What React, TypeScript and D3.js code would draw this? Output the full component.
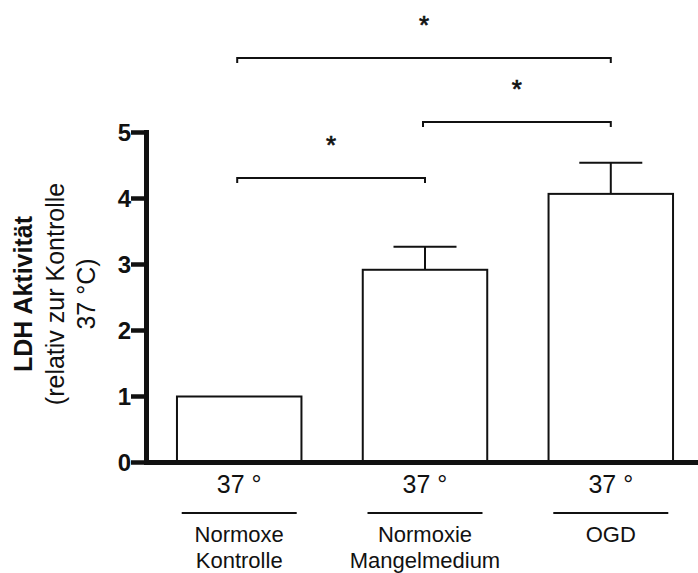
import React from "react";
import * as d3 from "d3";

const categories = ["Normoxe Kontrolle", "Normoxie Mangelmedium", "OGD"];
const groupLabelLines = [["Normoxe", "Kontrolle"], ["Normoxie", "Mangelmedium"], ["OGD"]];
const tempLabels = ["37 °", "37 °", "37 °"];
const means = [1.0, 2.92, 4.07];
const sems = [0, 0.35, 0.47];
const yTicks = [0, 1, 2, 3, 4, 5];
const sigFrom = [0, 1, 0];
const sigTo = [1, 2, 2];
const sigLevel = [4.31, 5.16, 6.13];
const sigLabels = ["*", "*", "*"];
const yTitleLines = ["LDH Aktivität", "(relativ zur Kontrolle", "37 °C)"];

const W = 698;
const H = 573;
const FONT = "'Liberation Sans', Arial, Helvetica, sans-serif";
const INK = "#111";

export default function App() {
  const axisX = 146.5;
  const x = d3
    .scaleBand<string>()
    .domain(categories)
    .range([axisX, 703.5])
    .paddingInner(0.33)
    .paddingOuter(0.164);
  const y = d3.scaleLinear().domain([0, 5]).range([462.5, 132.5]);
  const bw = x.bandwidth();
  const cx = (i: number) => (x(categories[i]) as number) + bw / 2;
  const capHalf = 31.5;

  return (
    <svg
      width={W}
      height={H}
      style={{ position: "absolute", left: 0, top: 0, background: "#fff" }}
      fontFamily={FONT}
    >
      <rect x={0} y={0} width={W} height={H} fill="#fff" />
      {/* bars */}
      {categories.map((c, i) => (
        <g key={c}>
          {sems[i] > 0 && (
            <g stroke={INK} strokeWidth={2}>
              <line x1={cx(i)} x2={cx(i)} y1={y(means[i])} y2={y(means[i] + sems[i])} />
              <line
                x1={cx(i) - capHalf}
                x2={cx(i) + capHalf}
                y1={y(means[i] + sems[i])}
                y2={y(means[i] + sems[i])}
              />
            </g>
          )}
          <rect
            x={x(c)}
            y={y(means[i])}
            width={bw}
            height={y(0) - y(means[i])}
            fill="#fff"
            stroke={INK}
            strokeWidth={2}
          />
        </g>
      ))}
      {/* y axis */}
      <line x1={axisX} x2={axisX} y1={130} y2={465} stroke={INK} strokeWidth={5} />
      {yTicks.map((t) => (
        <g key={t}>
          <line x1={131} x2={axisX} y1={y(t)} y2={y(t)} stroke={INK} strokeWidth={4.5} />
          <text
            x={131}
            y={y(t) + 8.6}
            textAnchor="end"
            fontSize={24}
            fontWeight="bold"
            fill={INK}
          >
            {t}
          </text>
        </g>
      ))}
      {/* x axis */}
      <line x1={axisX - 2.5} x2={W} y1={y(0)} y2={y(0)} stroke={INK} strokeWidth={5} />
      {/* x labels */}
      {categories.map((c, i) => (
        <g key={"lab" + c}>
          <text x={cx(i)} y={493} textAnchor="middle" fontSize={25} fill={INK}>
            {tempLabels[i]}
          </text>
          <line
            x1={cx(i) - 57.5}
            x2={cx(i) + 57.5}
            y1={513}
            y2={513}
            stroke={INK}
            strokeWidth={2}
          />
          {groupLabelLines[i].map((l, j) => (
            <text
              key={j}
              x={cx(i)}
              y={542 + j * 26}
              textAnchor="middle"
              fontSize={22}
              fill={INK}
            >
              {l}
            </text>
          ))}
        </g>
      ))}
      {/* significance brackets */}
      {sigFrom.map((f, k) => {
        const x1 = cx(f) - 2;
        const x2 = cx(sigTo[k]);
        const yy = y(sigLevel[k]);
        return (
          <g key={"sig" + k}>
            <path
              d={`M${x1},${yy + 5}V${yy}H${x2}V${yy + 5}`}
              fill="none"
              stroke={INK}
              strokeWidth={2}
            />
            <text
              x={(x1 + x2) / 2}
              y={yy - 24}
              textAnchor="middle"
              fontSize={26}
              fill={INK}
              stroke={INK}
              strokeWidth={0.7}
            >
              {sigLabels[k]}
            </text>
          </g>
        );
      })}
      {/* y title */}
      {yTitleLines.map((l, j) => (
        <text
          key={j}
          transform={`translate(${32 + j * 31.5},294) rotate(-90)`}
          textAnchor="middle"
          fontSize={25}
          fontWeight={j === 0 ? "bold" : "normal"}
          fill={INK}
        >
          {l}
        </text>
      ))}
    </svg>
  );
}
